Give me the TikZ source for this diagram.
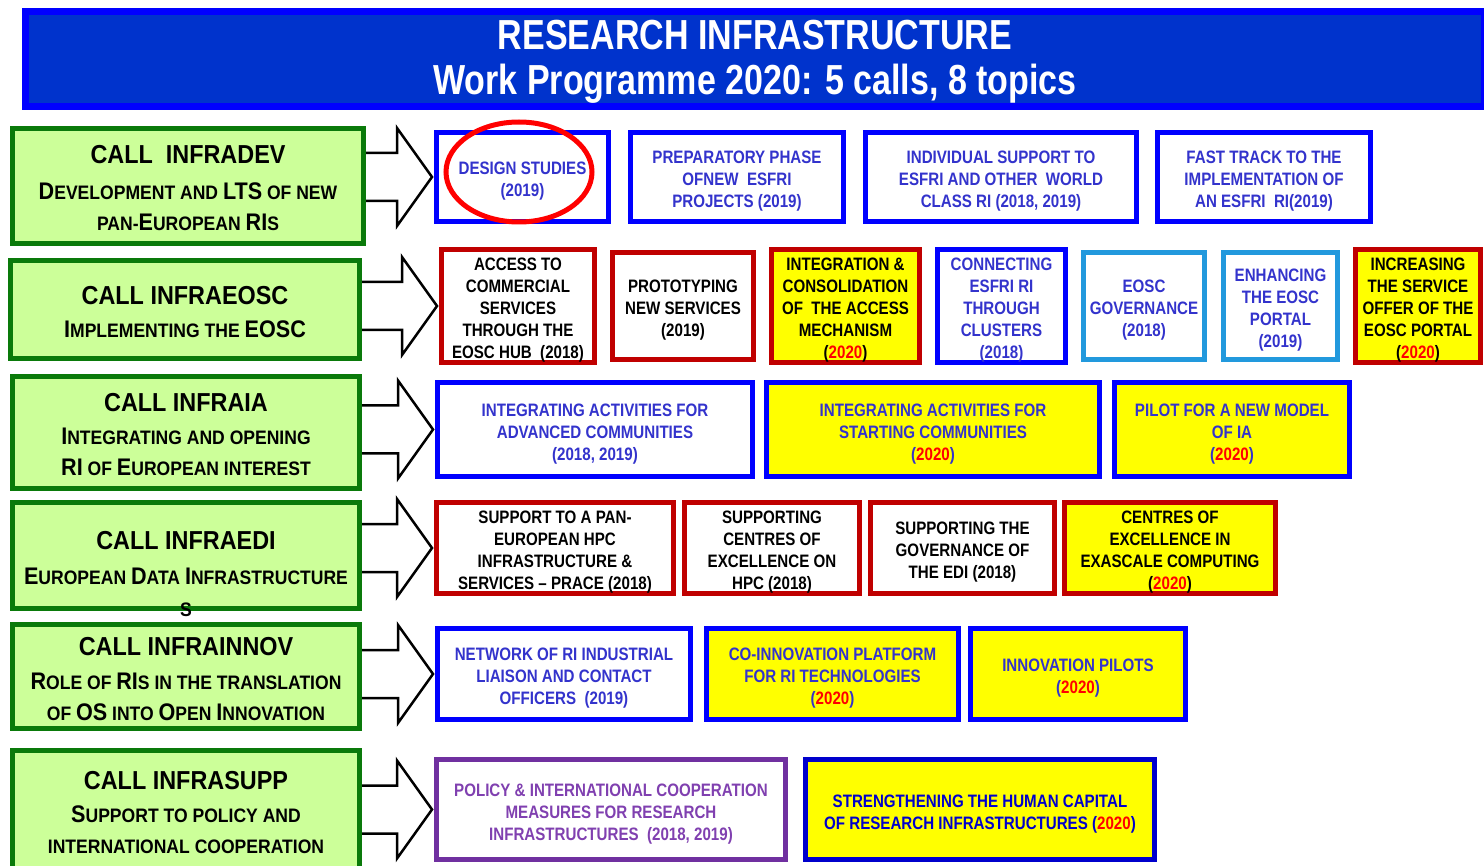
\documentclass[tikz,border=0pt]{standalone}
\usepackage{fontspec}
\usepackage{tikz}
\usetikzlibrary{calc}

\newfontfamily\topicfam[FakeStretch=0.84]{Liberation Sans}
\newfontfamily\callfam[FakeStretch=0.9]{Liberation Sans}
\newfontfamily\headfam[FakeStretch=0.81]{Liberation Sans}

\definecolor{hdrblue}{HTML}{0033CC}
\definecolor{pureblue}{HTML}{0000FF}
\definecolor{callgreen}{HTML}{0A7A0A}
\definecolor{callfill}{HTML}{CCFF99}
\definecolor{darkred}{HTML}{C00000}
\definecolor{cyanb}{HTML}{2299DD}
\definecolor{purp}{HTML}{7030A0}
\definecolor{purptext}{HTML}{8040B0}
\definecolor{navyb}{HTML}{0000CC}
\definecolor{btext}{HTML}{3333CC}
\definecolor{yrred}{HTML}{FF0000}
\definecolor{yel}{HTML}{FFFF00}

\newcommand\yr[1]{\textcolor{yrred}{#1}}
\newcommand\capbig[1]{{\fontsize{24}{31}\selectfont #1}}
\newcommand\calltitle{\rule{0pt}{23pt}\fontsize{26}{31}\selectfont}

\begin{document}
\begin{tikzpicture}[x=1pt,y=-1pt,
  banner/.style={draw=pureblue,fill=hdrblue,line width=7pt,inner sep=0pt,align=center,
    text=white,font=\headfam\bfseries\fontsize{42}{45}\selectfont},
  callbox/.style={draw=callgreen,fill=callfill,line width=5pt,inner sep=0pt,align=center,
    font=\callfam\bfseries\fontsize{19.5}{31}\selectfont},
  topic/.style={line width=5pt,inner sep=0pt,align=center,
    font=\topicfam\bfseries\fontsize{18}{22}\selectfont},
  tblue/.style={topic,draw=pureblue,fill=white,text=btext},
  tblueY/.style={topic,draw=pureblue,fill=yel,text=btext},
  tred/.style={topic,draw=darkred,fill=white,text=black},
  tredY/.style={topic,draw=darkred,fill=yel,text=black},
  tcyan/.style={topic,draw=cyanb,fill=white,text=btext},
  tpurple/.style={topic,draw=purp,fill=white,text=purptext},
  tnavyY/.style={topic,draw=navyb,fill=yel,text=navyb},
  blockarrow/.style={draw=black,fill=white,line width=2.5pt,line join=miter},
  hilite/.style={draw=yrred,line width=5pt}]

\useasboundingbox (0,0) rectangle (1484,866);

\node[banner, minimum width=1459pt, minimum height=95pt] (head) at (755,59)
  {\rule{0pt}{34pt}RESEARCH INFRASTRUCTURE\\Work Programme 2020: 5 calls, 8 topics};

% calls
\node[callbox, minimum width=351pt, minimum height=115pt] (c1) at (188,186)
  {{\calltitle CALL\ \ INFRADEV}\\[5pt]\capbig{D}EVELOPMENT AND \capbig{LTS} OF NEW\\PAN-\capbig{E}UROPEAN \capbig{RI}S};
\node[callbox, minimum width=349pt, minimum height=98pt] (c2) at (185,309.5)
  {{\calltitle CALL INFRAEOSC}\\[2pt]\capbig{I}MPLEMENTING THE \capbig{EOSC}};
\node[callbox, minimum width=347pt, minimum height=112pt] (c3) at (186,432.5)
  {{\calltitle CALL INFRAIA}\\[2pt]\capbig{I}NTEGRATING AND OPENING\\\capbig{RI} OF \capbig{E}UROPEAN INTEREST};
\node[callbox, minimum width=347pt, minimum height=106pt] (c4) at (186,555.5)
  {{\calltitle CALL INFRAEDI}\\[4pt]\capbig{E}UROPEAN \capbig{D}ATA \capbig{I}NFRASTRUCTURE};
\node[font=\callfam\bfseries\fontsize{19.5}{31}\selectfont, inner sep=0pt] (c4s) at (186,610) {S};
\node[callbox, minimum width=347pt, minimum height=104pt] (c5) at (186,676.5)
  {{\calltitle CALL INFRAINNOV}\\[3pt]\capbig{R}OLE OF \capbig{RI}S IN THE TRANSLATION\\OF \capbig{OS} INTO \capbig{O}PEN \capbig{I}NNOVATION};
\node[callbox, minimum width=347pt, minimum height=119pt] (c6) at (186,810)
  {{\calltitle CALL INFRASUPP}\\[2pt]\capbig{S}UPPORT TO POLICY AND\\INTERNATIONAL COOPERATION};

% topics
\foreach \n/\s/\x/\y/\w/\h/\txt in {
  t11/tblue/522.5/177/177/94/{DESIGN STUDIES\\(2019)},
  t12/tblue/737/177/218/94/{PREPARATORY PHASE\\OFNEW\ \ ESFRI\\PROJECTS (2019)},
  t13/tblue/1001/177/276/94/{INDIVIDUAL SUPPORT TO\\ESFRI AND OTHER\ \ WORLD\\CLASS RI (2018, 2019)},
  t14/tblue/1264/177/218/94/{FAST TRACK TO THE\\IMPLEMENTATION OF\\AN ESFRI\ \ RI(2019)},
  t21/tred/518/306/158/112/{ACCESS TO\\COMMERCIAL\\SERVICES\\THROUGH THE\\EOSC HUB\ \ (2018)},
  t22/tred/683/306/146/112/{PROTOTYPING\\NEW SERVICES\\(2019)},
  t23/tredY/845.5/306/153/112/{INTEGRATION \&\\CONSOLIDATION\\OF\ \ THE ACCESS\\MECHANISM\\(\yr{2020})},
  t24/tblue/1001.5/306/133/112/{CONNECTING\\ESFRI RI\\THROUGH\\CLUSTERS\\(2018)},
  t25/tcyan/1144/306/126/112/{EOSC\\GOVERNANCE\\(2018)},
  t26/tcyan/1280.5/306/119/112/{ENHANCING\\THE EOSC\\PORTAL\\(2019)},
  t27/tredY/1418/306/130/112/{INCREASING\\THE SERVICE\\OFFER OF THE\\EOSC PORTAL\\(\yr{2020})},
  t31/tblue/595/429.5/320/99/{INTEGRATING ACTIVITIES FOR\\ADVANCED COMMUNITIES\\(2018, 2019)},
  t32/tblueY/933/429.5/338/99/{INTEGRATING ACTIVITIES FOR\\STARTING COMMUNITIES\\(\yr{2020})},
  t33/tblueY/1232/429.5/240/99/{PILOT FOR A NEW MODEL\\OF IA\\(\yr{2020})},
  t41/tred/555/548/242/96/{SUPPORT TO A PAN-\\EUROPEAN HPC\\INFRASTRUCTURE \&\\SERVICES – PRACE (2018)},
  t42/tred/772/548/180/96/{SUPPORTING\\CENTRES OF\\EXCELLENCE ON\\HPC (2018)},
  t43/tred/962.5/548/189/96/{SUPPORTING THE\\GOVERNANCE OF\\THE EDI (2018)},
  t44/tredY/1170/548/216/96/{CENTRES OF\\EXCELLENCE IN\\EXASCALE COMPUTING\\(\yr{2020})},
  t51/tblue/564/674/258/96/{NETWORK OF RI INDUSTRIAL\\LIAISON AND CONTACT\\OFFICERS\ \ (2019)},
  t52/tblueY/832.5/674/257/96/{CO-INNOVATION PLATFORM\\FOR RI TECHNOLOGIES\\(\yr{2020})},
  t53/tblueY/1078/674/220/96/{INNOVATION PILOTS\\(\yr{2020})},
  t61/tpurple/611/809.5/354/105/{POLICY \& INTERNATIONAL COOPERATION\\MEASURES FOR RESEARCH\\INFRASTRUCTURES\ \ (2018, 2019)},
  t62/tnavyY/980/809.5/354/105/{STRENGTHENING THE HUMAN CAPITAL\\OF RESEARCH INFRASTRUCTURES (\yr{2020})}}
  \node[\s, minimum width={\w-5}, minimum height={\h-5}] (\n) at (\x,\y) {\rule{0pt}{21pt}\txt};

\draw[hilite] (t11) ++(-3.5,-5) ellipse [x radius=73, y radius=50];

% block arrows
\foreach \c/\t in {c1/t11,c2/t21,c3/t31,c4/t41,c5/t51,c6/t61}
  \draw[blockarrow] let \p1=(\c.east), \p2=(\t.west) in
    (\x1,\y2+24pt) -- (\x2-37pt,\y2+24pt) -- (\x2-37pt,\y2+49pt) -- (\x2-2pt,\y2)
    -- (\x2-37pt,\y2-49pt) -- (\x2-37pt,\y2-24pt) -- (\x1,\y2-24pt);
\end{tikzpicture}
\end{document}
